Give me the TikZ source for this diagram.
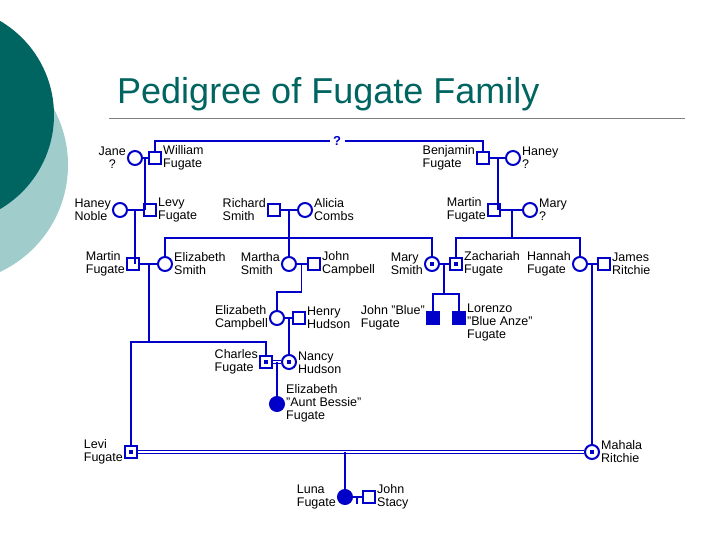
\documentclass[tikz,border=0pt]{standalone}
\usepackage{fontspec}
\setmainfont{Liberation Sans}
\usetikzlibrary{calc}
\definecolor{pedblue}{RGB}{0,0,200}
\definecolor{darkteal}{RGB}{0,100,96}
\definecolor{lightteal}{RGB}{160,204,204}
\tikzset{
  male/.style={draw=pedblue, line width=2pt, rectangle, minimum size=12pt, inner sep=0pt},
  female/.style={draw=pedblue, line width=2pt, circle, minimum size=14pt, inner sep=0pt},
  affm/.style={male, fill=pedblue},
  afff/.style={female, fill=pedblue},
  carm/.style={male, path picture={\fill[pedblue] ([shift={(-2pt,-2pt)}]path picture bounding box.center) rectangle ++(4pt,4pt);}},
  carf/.style={female, path picture={\fill[pedblue] ([shift={(-2pt,-2pt)}]path picture bounding box.center) rectangle ++(4pt,4pt);}},
  lbl/.style={font=\fontsize{12.5}{13}\selectfont, inner sep=1pt},
  link/.style={draw=pedblue, line width=1.2pt},
  consang/.style={draw=pedblue, line width=1.1pt, double=white, double distance=2pt}
}
\begin{document}
\begin{tikzpicture}[x=1pt, y=-1pt]
  \clip (0,0) rectangle (720,540);
  \useasboundingbox (0,0) rectangle (720,540);

  %%-- BACKGROUND CIRCLES --%%
  \fill[lightteal] (-50,165) circle (118);
  \fill[darkteal] (-55,115) circle (109);

  %%-- TITLE --%%
  \node[anchor=base west, text=darkteal, font=\fontsize{36}{36}\selectfont, inner sep=0pt] (title) at (117,104) {Pedigree of Fugate Family};
  \draw[gray, line width=1pt] (109,119) -- (685,119);

  %%-- GENERATION I --%%
  \node[female] (jane) at (135,158) {};
  \node[male] (william) at (155,158) {};
  \node[male] (benjamin) at (483,158) {};
  \node[female] (haneyq) at (513,158) {};
  \node[text=pedblue, font=\bfseries\fontsize{13}{13}\selectfont] (qmark) at (337,141) {?};

  %%-- GENERATION II --%%
  \node[female] (haneyn) at (120,210) {};
  \node[male] (levy) at (150,210) {};
  \node[male] (richard) at (274,210) {};
  \node[female] (alicia) at (305,210) {};
  \node[male] (martinB) at (494,210) {};
  \node[female] (maryq) at (530,210) {};

  %%-- GENERATION III --%%
  \node[male] (martinA) at (133,264) {};
  \node[female] (eliz) at (165,264) {};
  \node[female] (martha) at (289,264) {};
  \node[male] (johnc) at (314,264) {};
  \node[carf] (marys) at (432,264) {};
  \node[carm] (zach) at (456,264) {};
  \node[female] (hannah) at (580,264) {};
  \node[male] (james) at (604,264) {};

  %%-- GENERATION IV --%%
  \node[female] (ecamp) at (277,318) {};
  \node[male] (henry) at (299,318) {};
  \node[affm] (blue) at (433,318) {};
  \node[affm] (lorenzo) at (459,318) {};
  \node[carm] (charles) at (266,362) {};
  \node[carf] (nancy) at (289,362) {};
  \node[afff] (bessie) at (277,404) {};
  \node[carm] (levi) at (131,452) {};
  \node[carf] (mahala) at (592,452) {};
  \node[afff] (luna) at (345,497) {};
  \node[male] (stacy) at (369,497) {};

  %%-- CONNECTORS --%%
  \coordinate (jw) at ($(jane)!0.5!(william)$);
  \coordinate (bh) at ($(benjamin)!0.5!(haneyq)$);
  \draw[link] (jane) -- (william);
  \draw[link] (benjamin) -- (haneyq);
  \draw[link] (william.north) |- (qmark.west);
  \draw[link] (qmark.east) -| (benjamin.north);
  \draw[link] (jw) -- (jw |- levy);
  \draw[link] (haneyn) -- (levy);
  \coordinate (hl) at ($(haneyn)!0.5!(levy)$);
  \draw[link] (hl) -- (hl |- martinA);
  \draw[link] (bh) -- (bh |- martinB);
  \draw[link] (richard) -- (alicia);
  \draw[link] (martinB) -- (maryq);
  \draw[link] (martha.north) -- (martha.north |- richard);
  \coordinate (mm) at ($(martinB)!0.5!(maryq)$);
  \draw[link] (mm) -- ++(0,28) coordinate (mmj);
  \draw[link] (zach.north) |- (mmj) -| (hannah.north);

  \draw[link] (martinA) -- (eliz);
  \draw[link] (eliz.north) |- (165,238) -| (marys.north);
  \draw[link] (martha) -- (johnc);
  \draw[link] (marys) -- (zach);
  \draw[link] (hannah) -- (james);

  \coordinate (mj) at ($(martha)!0.5!(johnc)$);
  \draw[link] (mj) -- ++(0,28) -| (ecamp.north);
  \draw[link] (ecamp) -- (henry);
  \draw[link] (nancy.north) -- (nancy.north |- henry);

  \coordinate (msz) at ($(marys)!0.5!(zach)$);
  \draw[link] (msz) -- ++(0,30) coordinate (mszj);
  \draw[link] (blue.north) |- (mszj) -| (lorenzo.north);

  \coordinate (me) at ($(martinA)!0.5!(eliz)$);
  \draw[link] (me) -- ++(0,78) coordinate (mej);
  \draw[link] (levi.north) |- (mej) -| (charles.north);
  \draw[consang] (charles.east) -- (nancy.west);
  \draw[link] (bessie.north) -- (bessie.north |- charles);

  \coordinate (hj) at ($(hannah)!0.5!(james)$);
  \draw[link] (hj) -- (hj |- mahala.north);
  \draw[consang] (levi.east) -- (mahala.west);
  \draw[link] (luna.north) -- (luna.north |- levi);
  \draw[link] (luna) -- (stacy);
  \coordinate (ls) at ($(luna)!0.5!(stacy)$);
  \draw[link] (ls) -- ++(0,7);

  %%-- LABELS --%%
  \node[lbl, anchor=east, align=center] at (jane.west) {Jane\\?};
  \node[lbl, anchor=west, align=left] at (william.east) {William\\Fugate};
  \node[lbl, anchor=east, align=left] at (benjamin.west) {Benjamin\\Fugate};
  \node[lbl, anchor=west, align=left] at (haneyq.east) {Haney\\?};
  \node[lbl, anchor=east, align=left] at (haneyn.west) {Haney\\Noble};
  \node[lbl, anchor=west, align=left] at (levy.east) {Levy\\Fugate};
  \node[lbl, anchor=east, align=left] at (richard.west) {Richard\\Smith};
  \node[lbl, anchor=west, align=left] at (alicia.east) {Alicia\\Combs};
  \node[lbl, anchor=east, align=left] at (martinB.west) {Martin\\Fugate};
  \node[lbl, anchor=west, align=left] at (maryq.east) {Mary\\?};
  \node[lbl, anchor=east, align=left] at (martinA.west) {Martin\\Fugate};
  \node[lbl, anchor=west, align=left] at (eliz.east) {Elizabeth\\Smith};
  \node[lbl, anchor=east, align=left] at (martha.west) {Martha\\Smith};
  \node[lbl, anchor=west, align=left] at (johnc.east) {John\\Campbell};
  \node[lbl, anchor=east, align=left] at (marys.west) {Mary\\Smith};
  \node[lbl, anchor=west, align=left] at (zach.east) {Zachariah\\Fugate};
  \node[lbl, anchor=east, align=left] at (hannah.west) {Hannah\\Fugate};
  \node[lbl, anchor=west, align=left] at (james.east) {James\\Ritchie};
  \node[lbl, anchor=east, align=left] at (ecamp.west) {Elizabeth\\Campbell};
  \node[lbl, anchor=west, align=left] at (henry.east) {Henry\\Hudson};
  \node[lbl, anchor=east, align=left] at (blue.west) {John "Blue"\\Fugate};
  \node[lbl, anchor=west, align=left] at ([yshift=-4pt]lorenzo.east) {Lorenzo\\"Blue Anze"\\Fugate};
  \node[lbl, anchor=east, align=left] at (charles.west) {Charles\\Fugate};
  \node[lbl, anchor=west, align=left] at ([yshift=-1pt]nancy.east) {Nancy\\Hudson};
  \node[lbl, anchor=west, align=left] at ([yshift=1pt]bessie.east) {Elizabeth\\"Aunt Bessie"\\Fugate};
  \node[lbl, anchor=east, align=left] at (levi.west) {Levi\\Fugate};
  \node[lbl, anchor=west, align=left] at (mahala.east) {Mahala\\Ritchie};
  \node[lbl, anchor=east, align=left] at (luna.west) {Luna\\Fugate};
  \node[lbl, anchor=west, align=left] at (stacy.east) {John\\Stacy};
\end{tikzpicture}
\end{document}
